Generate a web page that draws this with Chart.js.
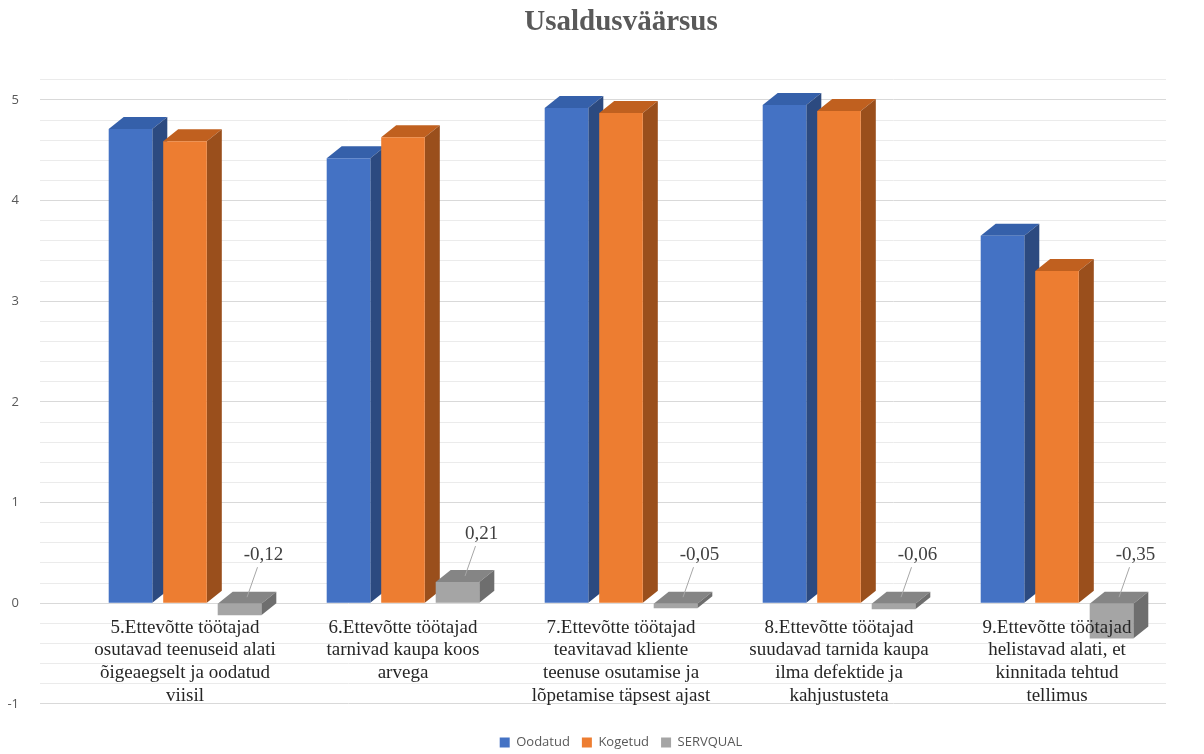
<!DOCTYPE html>
<html>
<head>
<meta charset="utf-8">
<script src="https://cdn.jsdelivr.net/npm/chart.js@4.4.1/dist/chart.umd.min.js"></script>
<style>
  body { margin: 0; background: #fff; }
  #wrap { width: 1204px; height: 754px; }
</style>
</head>
<body>
<div id="wrap"><canvas id="graafik"></canvas></div>
<script>
// andmed
const kategooriad = [
    ['5.Ettevõtte töötajad', 'osutavad teenuseid alati', 'õigeaegselt ja oodatud', 'viisil'],
    ['6.Ettevõtte töötajad', 'tarnivad kaupa koos', 'arvega'],
    ['7.Ettevõtte töötajad', 'teavitavad kliente', 'teenuse osutamise ja', 'lõpetamise täpsest ajast'],
    ['8.Ettevõtte töötajad', 'suudavad tarnida kaupa', 'ilma defektide ja', 'kahjustusteta'],
    ['9.Ettevõtte töötajad', 'helistavad alati, et', 'kinnitada tehtud', 'tellimus']
];
const oodatud = [4.71, 4.42, 4.92, 4.95, 3.65];
const kogetud = [4.59, 4.63, 4.87, 4.89, 3.30];
const servqual = [-0.12, 0.21, -0.05, -0.06, -0.35];
const servqualSildid = ['-0,12', '0,21', '-0,05', '-0,06', '-0,35'];
const yMin = -1.2;
const yMax = 5.2;

// värvid: esikülg, pealmine, külg
const esiVarv = ['#4472C4', '#ED7D31', '#A5A5A5'];
const peaVarv = ['#3560AA', '#C0601F', '#858585'];
const kulgVarv = ['#2C4A80', '#9A4F1C', '#6E6E6E'];
const sugavusX = 15;
const sugavusY = 12;

const serif = '"Liberation Serif", "Times New Roman", serif';
const sans = '"Open Sans", "Liberation Sans", sans-serif';

// 3D tahud tulpadele (joonistatakse enne esikülgi)
const ruumiline = {
    id: 'ruumiline',
    beforeDatasetsDraw(chart) {
        const ctx = chart.ctx;
        ctx.save();
        chart.data.datasets.forEach((ds, i) => {
            chart.getDatasetMeta(i).data.forEach(bar => {
                const vasak = bar.x - bar.width / 2;
                const parem = bar.x + bar.width / 2;
                const ulal = Math.min(bar.y, bar.base);
                const all = Math.max(bar.y, bar.base);
                // pealmine tahk
                ctx.fillStyle = peaVarv[i];
                ctx.beginPath();
                ctx.moveTo(vasak, ulal);
                ctx.lineTo(vasak + sugavusX, ulal - sugavusY);
                ctx.lineTo(parem + sugavusX, ulal - sugavusY);
                ctx.lineTo(parem, ulal);
                ctx.closePath();
                ctx.fill();
                // külg
                ctx.fillStyle = kulgVarv[i];
                ctx.beginPath();
                ctx.moveTo(parem, ulal);
                ctx.lineTo(parem + sugavusX, ulal - sugavusY);
                ctx.lineTo(parem + sugavusX, all - sugavusY);
                ctx.lineTo(parem, all);
                ctx.closePath();
                ctx.fill();
            });
        });
        ctx.restore();
    },
    afterDatasetsDraw(chart) {
        // SERVQUAL väärtuste sildid koos juhtjoonega
        const ctx = chart.ctx;
        const meta = chart.getDatasetMeta(2);
        const nullY = chart.scales.y.getPixelForValue(0);
        ctx.save();
        ctx.font = '19px ' + serif;
        ctx.fillStyle = '#404040';
        ctx.textAlign = 'center';
        ctx.textBaseline = 'middle';
        meta.data.forEach((bar, j) => {
            const ulal = Math.min(bar.y, nullY);
            const sx = bar.x + 24;
            const sy = ulal - 48;
            ctx.strokeStyle = '#A6A6A6';
            ctx.lineWidth = 1;
            ctx.beginPath();
            ctx.moveTo(bar.x + sugavusX / 2, ulal - sugavusY / 2);
            ctx.lineTo(sx - 6, sy + 12);
            ctx.stroke();
            ctx.fillText(servqualSildid[j], sx, sy);
        });
        ctx.restore();
    }
};

new Chart(document.getElementById('graafik'), {
    type: 'bar',
    data: {
        labels: kategooriad,
        datasets: [
            { label: 'Oodatud', data: oodatud, backgroundColor: esiVarv[0] },
            { label: 'Kogetud', data: kogetud, backgroundColor: esiVarv[1] },
            { label: 'SERVQUAL', data: servqual, backgroundColor: esiVarv[2] }
        ]
    },
    plugins: [ruumiline],
    options: {
        responsive: true,
        maintainAspectRatio: false,
        animation: false,
        layout: { padding: { left: 6, right: 38, bottom: -5 } },
        datasets: {
            bar: { barPercentage: 0.8, categoryPercentage: 0.75 }
        },
        plugins: {
            title: {
                display: true,
                fullSize: false,
                text: 'Usaldusväärsus',
                color: '#595959',
                font: { family: serif, size: 29, weight: 'bold' },
                padding: { top: 5, bottom: 40 }
            },
            legend: {
                position: 'bottom',
                fullSize: false,
                labels: {
                    color: '#595959',
                    boxWidth: 10,
                    boxHeight: 10,
                    padding: 12,
                    font: { family: sans, size: 13 }
                }
            },
            tooltip: { enabled: false }
        },
        scales: {
            x: {
                position: { y: 0 },
                grid: { display: false },
                border: { display: false },
                ticks: {
                    z: 1, // sildid tulpade peale
                    color: '#262626',
                    padding: 5,
                    maxRotation: 0,
                    autoSkip: false,
                    font: { family: serif, size: 19, lineHeight: 1.2 }
                }
            },
            y: {
                min: yMin,
                max: yMax,
                border: { display: false },
                afterFit: scale => { scale.width = 70; },
                grid: {
                    color: ctx => {
                        const v = Math.round(ctx.tick.value * 10) / 10;
                        if (v < -1) return 'rgba(0,0,0,0)';
                        return Number.isInteger(v) ? '#D9D9D9' : '#EBEBEB';
                    },
                    tickLength: 36
                },
                ticks: {
                    stepSize: 0.2,
                    padding: 21,
                    color: '#595959',
                    font: { family: sans, size: 13 },
                    callback: v => {
                        const r = Math.round(v * 10) / 10;
                        return Number.isInteger(r) && r <= 5 && r >= -1 ? String(r) : '';
                    }
                }
            }
        }
    }
});
</script>
</body>
</html>
